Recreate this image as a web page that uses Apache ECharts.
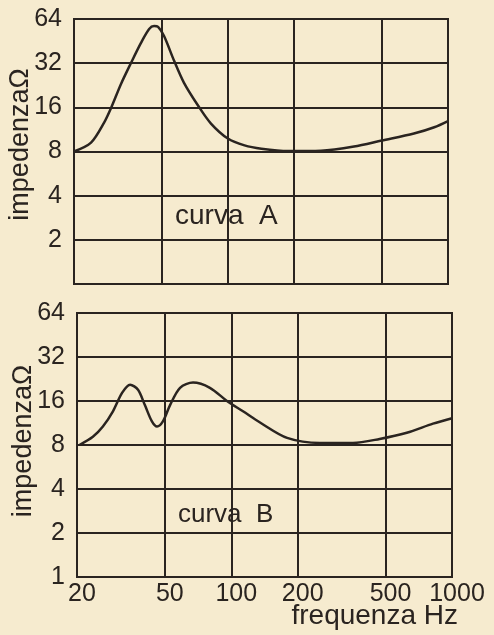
<!DOCTYPE html>
<html>
<head>
<meta charset="utf-8">
<script src="https://cdn.jsdelivr.net/npm/echarts@6/dist/echarts.min.js"></script>
<style>
  html, body { margin: 0; padding: 0; background: #f6ebcf; }
  #chart { width: 494px; height: 635px; }
</style>
</head>
<body>
<div id="chart"></div>
<script>
// Frequency (Hz) and impedance (ohm) samples for the two loudspeaker curves
const freqA = [20, 23.9, 27.4, 29.5, 32.7, 36.3, 40.3, 43.9, 46.2, 48.2, 51.3, 57, 63.2, 73.3, 83.8, 100, 119, 142, 188, 265, 374, 500, 700, 866, 1000];
const zA    = [8, 9.2, 12.6, 15.9, 23.1, 32.1, 44, 54.7, 57.3, 56.5, 49, 33.2, 23.5, 16.4, 12.4, 9.8, 8.8, 8.35, 8.05, 8.1, 8.65, 9.5, 10.6, 11.7, 12.9];

const freqB = [20.5, 23.6, 26.2, 29.1, 32, 34.8, 37.8, 40.6, 43.7, 46.1, 49, 52.8, 58.6, 67.1, 80, 95.6, 113, 135, 179, 252, 356, 470, 624, 820, 1000];
const zB    = [8, 9.1, 10.7, 13.6, 18.2, 20.7, 19.1, 15.0, 11.6, 10.7, 11.6, 15.0, 19.7, 21.4, 19.7, 16, 13.6, 11.4, 8.95, 8.26, 8.26, 8.8, 9.7, 11.2, 12.2];

// Axis tick values
const freqTicks = [20, 50, 100, 200, 500, 1000];
const zTicks = [1, 2, 4, 8, 16, 32, 64];

const ink = '#2a2420';
const font = '"Liberation Sans", Arial, sans-serif';

function pairs(xs, ys) { return xs.map((x, i) => [x, ys[i]]); }

function xAxis(gridIndex, showLabels) {
  return {
    type: 'log', logBase: 10, min: 20, max: 1000, gridIndex,
    axisLine: { show: false },
    axisTick: { show: false, customValues: freqTicks },
    axisLabel: {
      show: showLabels, customValues: freqTicks, color: ink,
      fontFamily: font, fontSize: 25, margin: 5, padding: [0, 0, 0, 10],
      formatter: v => String(v)
    },
    splitLine: { show: true, lineStyle: { color: ink, width: 2 } }
  };
}

function yAxis(gridIndex, showOne, namePad) {
  return {
    type: 'log', logBase: 2, min: 1, max: 64, gridIndex,
    name: 'impedenzaΩ', nameLocation: 'middle', nameRotate: 90, nameGap: 40,
    nameMoveOverlap: false,
    nameTextStyle: { color: ink, fontFamily: font, fontSize: 27, padding: [0, 0, 0, namePad] },
    axisLine: { show: false },
    axisTick: { show: false, customValues: zTicks },
    axisLabel: {
      customValues: zTicks, color: ink, fontFamily: font, fontSize: 25, margin: 12,
      formatter: v => (v === 1 && !showOne) ? '' : String(v)
    },
    splitLine: { show: true, lineStyle: { color: ink, width: 2 } }
  };
}

const chart = echarts.init(document.getElementById('chart'), null, { renderer: 'canvas' });
chart.setOption({
  backgroundColor: '#f6ebcf',
  animation: false,
  grid: [
    { left: 74, top: 19, width: 374, height: 265, outerBoundsMode: 'none', containLabel: false,
      show: true, borderColor: ink, borderWidth: 2 },
    { left: 77, top: 313, width: 375, height: 264, outerBoundsMode: 'none', containLabel: false,
      show: true, borderColor: ink, borderWidth: 2 }
  ],
  xAxis: [xAxis(0, false), xAxis(1, true)],
  yAxis: [yAxis(0, false, 14), yAxis(1, true, 8)],
  series: [
    {
      type: 'line', xAxisIndex: 0, yAxisIndex: 0, data: pairs(freqA, zA),
      smooth: 0.3, showSymbol: false, lineStyle: { color: ink, width: 2.5 }
    },
    {
      type: 'line', xAxisIndex: 1, yAxisIndex: 1, data: pairs(freqB, zB),
      smooth: 0.3, showSymbol: false, lineStyle: { color: ink, width: 2.5 }
    }
  ],
  graphic: [
    { type: 'text', left: 175, top: 202, style: { text: 'curva  A', fill: ink, font: '28px ' + font } },
    { type: 'text', left: 178, top: 502, style: { text: 'curva  B', fill: ink, font: '26px ' + font } },
    { type: 'text', right: 36, top: 602, style: { text: 'frequenza Hz', fill: ink, font: '28px ' + font } }
  ]
});
</script>
</body>
</html>
